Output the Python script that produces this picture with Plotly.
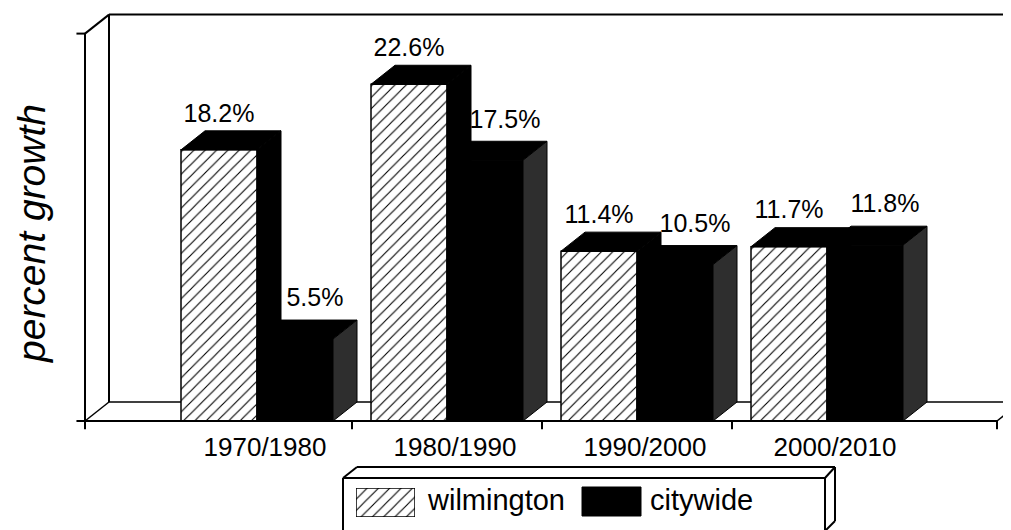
import plotly.graph_objects as go

# ---------------- data ----------------
categories = ["1970/1980", "1980/1990", "1990/2000", "2000/2010"]
wilmington = [18.2, 22.6, 11.4, 11.7]
citywide = [5.5, 17.5, 10.5, 11.8]
series_names = ["wilmington", "citywide"]
y_title = "percent growth"

# ---------------- layout constants ----------------
PAGE_W, PAGE_H = 1011, 530
OFF = 8                       # default page margin of the html body
W, H = PAGE_W - OFF, PAGE_H - OFF
FONT = "Liberation Sans, Arial, Helvetica, sans-serif"
PX_CAT = 190.0      # pixels per category
PX_PCT = 14.9       # pixels per percent
X0_PX = 257.0       # page pixel of first category centre
BASE_PX = 421.0     # page pixel of the zero line

XR = [(OFF - X0_PX) / PX_CAT, (PAGE_W - X0_PX) / PX_CAT]
YR = [(BASE_PX - PAGE_H) / PX_PCT, (BASE_PX - OFF) / PX_PCT]
BAR_W = 0.4
DX = 24 / PX_CAT
DY = 19 / PX_PCT
AXIS_TOP = 26.0
UL = (85 - X0_PX) / PX_CAT
UR = (997 - X0_PX) / PX_CAT

idx = list(range(len(categories)))


def px(x):
    return (x - OFF) / W


def py(y):
    return 1 - (y - OFF) / H


def top_face(x0, x1, v):
    return [x0, x0 + DX, x1 + DX, x1, x0, None], [v, v + DY, v + DY, v, v, None]


def side_face(x1, v):
    return [x1, x1 + DX, x1 + DX, x1, x1, None], [0, DY, v + DY, v, 0, None]


def poly_trace(faces, color):
    xs, ys = [], []
    for fx, fy in faces:
        xs += fx
        ys += fy
    return go.Scatter(x=xs, y=ys, mode="lines", fill="toself", fillcolor=color,
                      line=dict(color="black", width=1), hoverinfo="skip")


HATCH = dict(shape="/", size=8, solidity=0.14, fgcolor="black", bgcolor="white",
             fillmode="replace")

fig = go.Figure()

# front faces
fig.add_trace(go.Bar(
    x=idx, y=wilmington, width=BAR_W, offset=-BAR_W, name=series_names[0],
    marker=dict(color="white", line=dict(color="black", width=1.5), pattern=HATCH),
))
fig.add_trace(go.Bar(
    x=idx, y=citywide, width=BAR_W, offset=0, name=series_names[1],
    marker=dict(color="black", line=dict(color="black", width=1)),
))

# depth faces
fig.add_trace(poly_trace([top_face(i - BAR_W, i, v) for i, v in zip(idx, wilmington)], "black"))
fig.add_trace(poly_trace([side_face(i, v) for i, v in zip(idx, wilmington)], "black"))
fig.add_trace(poly_trace([top_face(i, i + BAR_W, v) for i, v in zip(idx, citywide)], "black"))
fig.add_trace(poly_trace([side_face(i + BAR_W, v) for i, v in zip(idx, citywide)], "#2e2e2e"))

# value labels
fig.add_trace(go.Scatter(
    x=[i - BAR_W / 2 for i in idx], y=[v + DY + 0.2 for v in wilmington],
    mode="text", text=[f"{v:.1f}%" for v in wilmington], textposition="top center",
    textfont=dict(size=25, color="black", family=FONT), cliponaxis=False, hoverinfo="skip"))
fig.add_trace(go.Scatter(
    x=[i + BAR_W / 2 + 0.105 for i in idx], y=[v + DY + 0.5 for v in citywide],
    mode="text", text=[f"{v:.1f}%" for v in citywide], textposition="top center",
    textfont=dict(size=25, color="black", family=FONT), cliponaxis=False, hoverinfo="skip"))

# legend swatch (hatched) on a tiny extra subplot
fig.add_trace(go.Bar(
    x=[0], y=[1], width=1, xaxis="x2", yaxis="y2",
    marker=dict(color="white", line=dict(color="black", width=1.5), pattern=HATCH),
    hoverinfo="skip"))

# ---------------- frame shapes ----------------
shapes = []
LW = 2


def dline(x0, y0, x1, y1, layer="below", w=LW):
    shapes.append(dict(type="line", xref="x", yref="y", x0=x0, y0=y0, x1=x1, y1=y1,
                       line=dict(color="black", width=w), layer=layer))


def pline(x0, y0, x1, y1, w=LW):
    shapes.append(dict(type="line", xref="paper", yref="paper",
                       x0=px(x0), y0=py(y0), x1=px(x1), y1=py(y1),
                       line=dict(color="black", width=w), layer="above"))


# left wall / axis
dline(UL, 0, UL, AXIS_TOP)
dline(UL - 0.045, 0, UL, 0)
dline(UL - 0.045, AXIS_TOP, UL, AXIS_TOP)
dline(UL, AXIS_TOP, UL + DX, AXIS_TOP + DY)
dline(UL + DX, DY, UL + DX, AXIS_TOP + DY)
# back wall top
dline(UL + DX, AXIS_TOP + DY, XR[1], AXIS_TOP + DY)
# floor
dline(UL + DX, DY, XR[1], DY, w=1.5)
dline(UL, 0, UL + DX, DY, w=1.5)
dline(UL, 0, UR, 0, layer="above")
dline(UR, 0, UR + DX, DY, w=1.5)
for t in [UL, 0.5, 1.5, 2.5, UR]:
    dline(t, 0, t, -0.55, layer="above")

# legend box (page pixels -> paper)
LX0, LX1, LY0, LYB = 343, 825, 478, 540
pline(LX0, LY0, LX1, LY0)
pline(LX0, LY0, LX0, LYB)
pline(LX1, LY0, LX1, LYB)
pline(LX0, LY0, LX0 + 14, LY0 - 11)
pline(LX0 + 14, LY0 - 11, LX1 + 10, LY0 - 11)
pline(LX1, LY0, LX1 + 10, LY0 - 11)
pline(LX1 + 10, LY0 - 11, LX1 + 10, 521)
pline(LX1 + 10, 521, LX1, 531)
# citywide swatch
shapes.append(dict(type="rect", xref="paper", yref="paper",
                   x0=px(582), x1=px(641), y0=py(516), y1=py(487),
                   fillcolor="black", line=dict(color="black", width=1), layer="above"))

annotations = [
    dict(text=f"<i>{y_title}</i>", xref="paper", yref="paper", x=px(31), y=py(234),
         textangle=-90, showarrow=False, xanchor="center", yanchor="middle",
         font=dict(size=39, color="black", family=FONT)),
    dict(text=series_names[0], xref="paper", yref="paper", x=px(425), y=py(500),
         showarrow=False, xanchor="left", yanchor="middle",
         font=dict(size=29, color="black", family=FONT)),
    dict(text=series_names[1], xref="paper", yref="paper", x=px(648), y=py(500),
         showarrow=False, xanchor="left", yanchor="middle",
         font=dict(size=29, color="black", family=FONT)),
]

fig.update_layout(
    width=W, height=H, margin=dict(l=0, r=0, t=0, b=0),
    paper_bgcolor="white", plot_bgcolor="white",
    barmode="overlay", showlegend=False, hovermode=False,
    font=dict(family=FONT, color="black"),
    xaxis=dict(range=XR, domain=[0, 1], anchor="free", position=(PAGE_H - BASE_PX) / H,
               tickvals=idx, ticktext=categories, showline=False, showgrid=False,
               zeroline=False, ticks="", ticklabelshift=8, ticklabelstandoff=8,
               tickfont=dict(size=26, color="black", family=FONT), fixedrange=True),
    yaxis=dict(range=YR, domain=[0, 1], visible=False, fixedrange=True),
    xaxis2=dict(domain=[px(356), px(415)], anchor="y2", range=[-0.5, 0.5], visible=False),
    yaxis2=dict(domain=[py(517), py(488)], anchor="x2", range=[0, 1], visible=False),
    shapes=shapes, annotations=annotations,
)

fig.write_html("out.html")
